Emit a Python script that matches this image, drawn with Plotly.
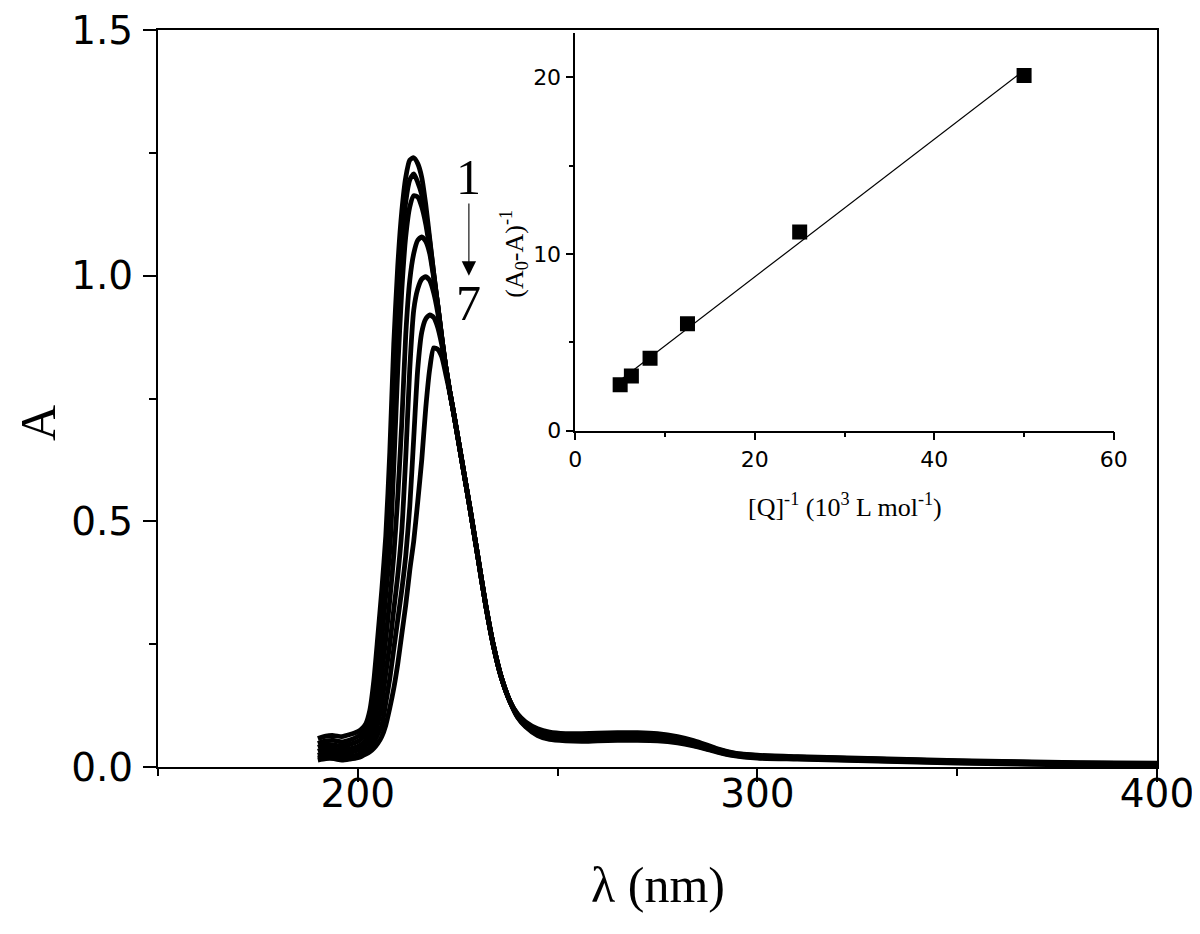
import numpy as np
import plotly.graph_objects as go

# UV spectra, curves 1..7 (absorbance)
wavelength = [190, 192, 194, 196, 198, 200, 201, 202, 203, 204, 205, 206, 207, 208, 209,
              210, 211, 212, 213, 214, 215, 216, 217, 218, 219, 220, 221, 222, 223, 224,
              226, 228, 230, 232, 234, 236, 238, 240, 242, 245, 248, 252, 256, 260, 265,
              270, 275, 280, 284, 287, 290, 294, 300, 310, 320, 335, 350, 365, 380, 400]

abs_1 = [0.058, 0.063, 0.064, 0.062, 0.066, 0.072, 0.078, 0.088, 0.115, 0.175, 0.265, 0.36, 0.47, 0.64, 0.86,
         1.02, 1.13, 1.20, 1.235, 1.24, 1.228, 1.20, 1.145, 1.075, 1.005, 0.94, 0.875, 0.815, 0.765, 0.72,
         0.625, 0.53, 0.43, 0.33, 0.245, 0.18, 0.135, 0.108, 0.092, 0.078, 0.071, 0.068, 0.068, 0.069, 0.070,
         0.070, 0.068, 0.062, 0.054, 0.046, 0.037, 0.029, 0.024, 0.021, 0.019, 0.016, 0.013, 0.011, 0.009, 0.008]
abs_2 = [0.048, 0.053, 0.054, 0.051, 0.055, 0.062, 0.068, 0.078, 0.10, 0.15, 0.225, 0.31, 0.39, 0.54, 0.75,
         0.93, 1.06, 1.15, 1.195, 1.207, 1.19, 1.165, 1.125, 1.07, 1.005, 0.94, 0.875, 0.815, 0.765, 0.72,
         0.625, 0.53, 0.43, 0.33, 0.245, 0.18, 0.135, 0.107, 0.090, 0.076, 0.068, 0.065, 0.065, 0.066, 0.067,
         0.067, 0.065, 0.060, 0.052, 0.044, 0.036, 0.028, 0.023, 0.020, 0.018, 0.015, 0.012, 0.010, 0.008, 0.007]
abs_3 = [0.040, 0.045, 0.045, 0.042, 0.046, 0.052, 0.058, 0.066, 0.083, 0.12, 0.18, 0.26, 0.35, 0.44, 0.61,
         0.81, 0.97, 1.08, 1.14, 1.163, 1.16, 1.14, 1.105, 1.055, 1.0, 0.94, 0.875, 0.815, 0.765, 0.72,
         0.625, 0.53, 0.43, 0.33, 0.245, 0.18, 0.135, 0.105, 0.088, 0.073, 0.066, 0.063, 0.063, 0.064, 0.065,
         0.065, 0.063, 0.058, 0.050, 0.043, 0.035, 0.027, 0.022, 0.020, 0.018, 0.015, 0.012, 0.010, 0.008, 0.007]
abs_4 = [0.032, 0.037, 0.037, 0.034, 0.037, 0.042, 0.047, 0.054, 0.065, 0.088, 0.13, 0.19, 0.26, 0.34, 0.43,
         0.55, 0.70, 0.88, 0.99, 1.045, 1.072, 1.079, 1.07, 1.045, 0.995, 0.94, 0.875, 0.815, 0.765, 0.72,
         0.625, 0.53, 0.43, 0.33, 0.245, 0.18, 0.135, 0.104, 0.086, 0.071, 0.063, 0.060, 0.060, 0.061, 0.062,
         0.062, 0.060, 0.055, 0.048, 0.041, 0.033, 0.026, 0.021, 0.019, 0.017, 0.014, 0.011, 0.009, 0.007, 0.006]
abs_5 = [0.024, 0.029, 0.029, 0.026, 0.029, 0.034, 0.038, 0.044, 0.052, 0.066, 0.088, 0.13, 0.19, 0.25, 0.32,
         0.39, 0.48, 0.63, 0.81, 0.93, 0.973, 0.993, 0.998, 0.99, 0.965, 0.925, 0.87, 0.815, 0.765, 0.72,
         0.625, 0.53, 0.43, 0.33, 0.245, 0.18, 0.135, 0.103, 0.084, 0.068, 0.060, 0.057, 0.057, 0.058, 0.059,
         0.059, 0.057, 0.053, 0.046, 0.039, 0.032, 0.025, 0.020, 0.018, 0.016, 0.013, 0.010, 0.008, 0.006, 0.005]
abs_6 = [0.018, 0.022, 0.022, 0.019, 0.021, 0.025, 0.029, 0.034, 0.040, 0.050, 0.066, 0.085, 0.13, 0.18, 0.24,
         0.30, 0.36, 0.43, 0.53, 0.67, 0.81, 0.885, 0.912, 0.92, 0.915, 0.895, 0.86, 0.815, 0.765, 0.72,
         0.625, 0.53, 0.43, 0.33, 0.245, 0.18, 0.135, 0.102, 0.083, 0.066, 0.058, 0.055, 0.054, 0.055, 0.056,
         0.056, 0.055, 0.051, 0.044, 0.038, 0.031, 0.024, 0.019, 0.017, 0.015, 0.012, 0.009, 0.007, 0.005, 0.004]
abs_7 = [0.014, 0.017, 0.017, 0.014, 0.016, 0.019, 0.022, 0.026, 0.031, 0.038, 0.048, 0.062, 0.085, 0.12, 0.16,
         0.21, 0.27, 0.33, 0.40, 0.46, 0.54, 0.625, 0.73, 0.81, 0.853, 0.85, 0.835, 0.80, 0.762, 0.72,
         0.625, 0.53, 0.43, 0.33, 0.245, 0.18, 0.135, 0.101, 0.082, 0.064, 0.056, 0.053, 0.052, 0.053, 0.054,
         0.054, 0.053, 0.049, 0.043, 0.037, 0.030, 0.023, 0.018, 0.016, 0.014, 0.011, 0.008, 0.006, 0.004, 0.003]

spectra = [abs_1, abs_2, abs_3, abs_4, abs_5, abs_6, abs_7]

# inset: double reciprocal plot
inv_q = [5.0, 6.25, 8.33, 12.5, 25.0, 50.0]        # [Q]^-1 (10^3 L/mol)
inv_dA = [2.6, 3.1, 4.1, 6.05, 11.25, 20.1]        # (A0-A)^-1

SERIF = "Liberation Serif"
SANS = "DejaVu Sans"

fig = go.Figure()

for a in spectra:
    fig.add_trace(go.Scatter(
        x=wavelength, y=a, mode="lines",
        line=dict(color="black", width=4.8, shape="spline", smoothing=0.6),
        showlegend=False, hoverinfo="skip",
    ))

# linear fit for the inset
slope, intercept = np.polyfit(inv_q, inv_dA, 1)
fit_x = [min(inv_q), max(inv_q)]
fit_y = [slope * v + intercept for v in fit_x]

fig.add_trace(go.Scatter(
    x=fit_x, y=fit_y, mode="lines", line=dict(color="black", width=1.2),
    xaxis="x2", yaxis="y2", showlegend=False,
))
fig.add_trace(go.Scatter(
    x=inv_q, y=inv_dA, mode="markers",
    marker=dict(symbol="square", size=15, color="black"),
    xaxis="x2", yaxis="y2", showlegend=False,
))

main_axis = dict(
    showline=True, linecolor="black", linewidth=2, mirror=True,
    ticks="outside", tickcolor="black", tickwidth=2, ticklen=13,
    showgrid=False, zeroline=False, ticklabeloverflow="allow", automargin=False,
    tickfont=dict(family=SANS, size=39, color="black"),
)
inset_axis = dict(
    showline=True, linecolor="black", linewidth=1.5, mirror=False,
    ticks="outside", tickcolor="black", tickwidth=1.5, ticklen=8,
    showgrid=False, zeroline=False, automargin=False,
    tickfont=dict(family=SANS, size=22, color="black"),
)

# the page body adds an 8 px offset, so margins are shifted to compensate
fig.update_layout(
    width=1200, height=934,
    margin=dict(l=150, r=51, t=22, b=175),
    paper_bgcolor="white", plot_bgcolor="white",
    xaxis=dict(
        main_axis, range=[150, 400], tickvals=[200, 300, 400], ticklabelstandoff=-22,
        minor=dict(tickvals=[150, 250, 350], ticks="outside", ticklen=7, tickwidth=2, tickcolor="black"),
    ),
    yaxis=dict(
        main_axis, range=[0, 1.5], tickvals=[0, 0.5, 1.0, 1.5], ticktext=["0.0", "0.5", "1.0", "1.5"],
        ticklabelstandoff=2,
        minor=dict(tickvals=[0.25, 0.75, 1.25], ticks="outside", ticklen=7, tickwidth=2, tickcolor="black"),
    ),
    xaxis2=dict(
        inset_axis, domain=[0.4177, 0.9568], anchor="y2", range=[0, 60],
        tickvals=[0, 20, 40, 60],
        minor=dict(tickvals=[10, 30, 50], ticks="outside", ticklen=5, tickwidth=1.5, tickcolor="black"),
    ),
    yaxis2=dict(
        inset_axis, domain=[0.4563, 0.9957], anchor="x2", range=[0, 22.5],
        tickvals=[0, 10, 20],
        minor=dict(tickvals=[5, 15], ticks="outside", ticklen=5, tickwidth=1.5, tickcolor="black"),
    ),
)

# main axis titles
fig.add_annotation(text="λ (nm)", xref="paper", yref="paper", x=0.5, y=-0.160,
                   xanchor="center", yanchor="middle", showarrow=False,
                   font=dict(family=SERIF, size=50, color="black"))
fig.add_annotation(text="A", xref="paper", yref="paper", x=-0.120, y=0.467,
                   xanchor="center", yanchor="middle", textangle=-90, showarrow=False,
                   font=dict(family=SERIF, size=50, color="black"))

# inset axis titles
fig.add_annotation(
    text="[Q]<sup>-1</sup> (10<sup>3</sup> L mol<sup>-1</sup>)",
    xref="x2", yref="paper", x=30, y=0.355, showarrow=False,
    font=dict(family=SERIF, size=26, color="black"),
)
fig.add_annotation(
    text="(A<sub>0</sub>-A)<sup>-1</sup>",
    xref="paper", yref="y2", x=0.356, y=10, textangle=-90, showarrow=False,
    font=dict(family=SERIF, size=26, color="black"),
)

# 1 -> 7 label with arrow
fig.add_annotation(text="1", x=227.8, y=1.20, xref="x", yref="y", showarrow=False,
                   font=dict(family=SERIF, size=50, color="black"))
fig.add_annotation(text="7", x=227.8, y=0.945, xref="x", yref="y", showarrow=False,
                   font=dict(family=SERIF, size=50, color="black"))
fig.add_annotation(text="", x=227.8, y=1.0, ax=227.8, ay=1.15, xref="x", yref="y",
                   axref="x", ayref="y", showarrow=True, arrowhead=2, arrowsize=2.6,
                   arrowwidth=1.1, arrowcolor="black", standoff=0)

fig.write_html("out.html")
